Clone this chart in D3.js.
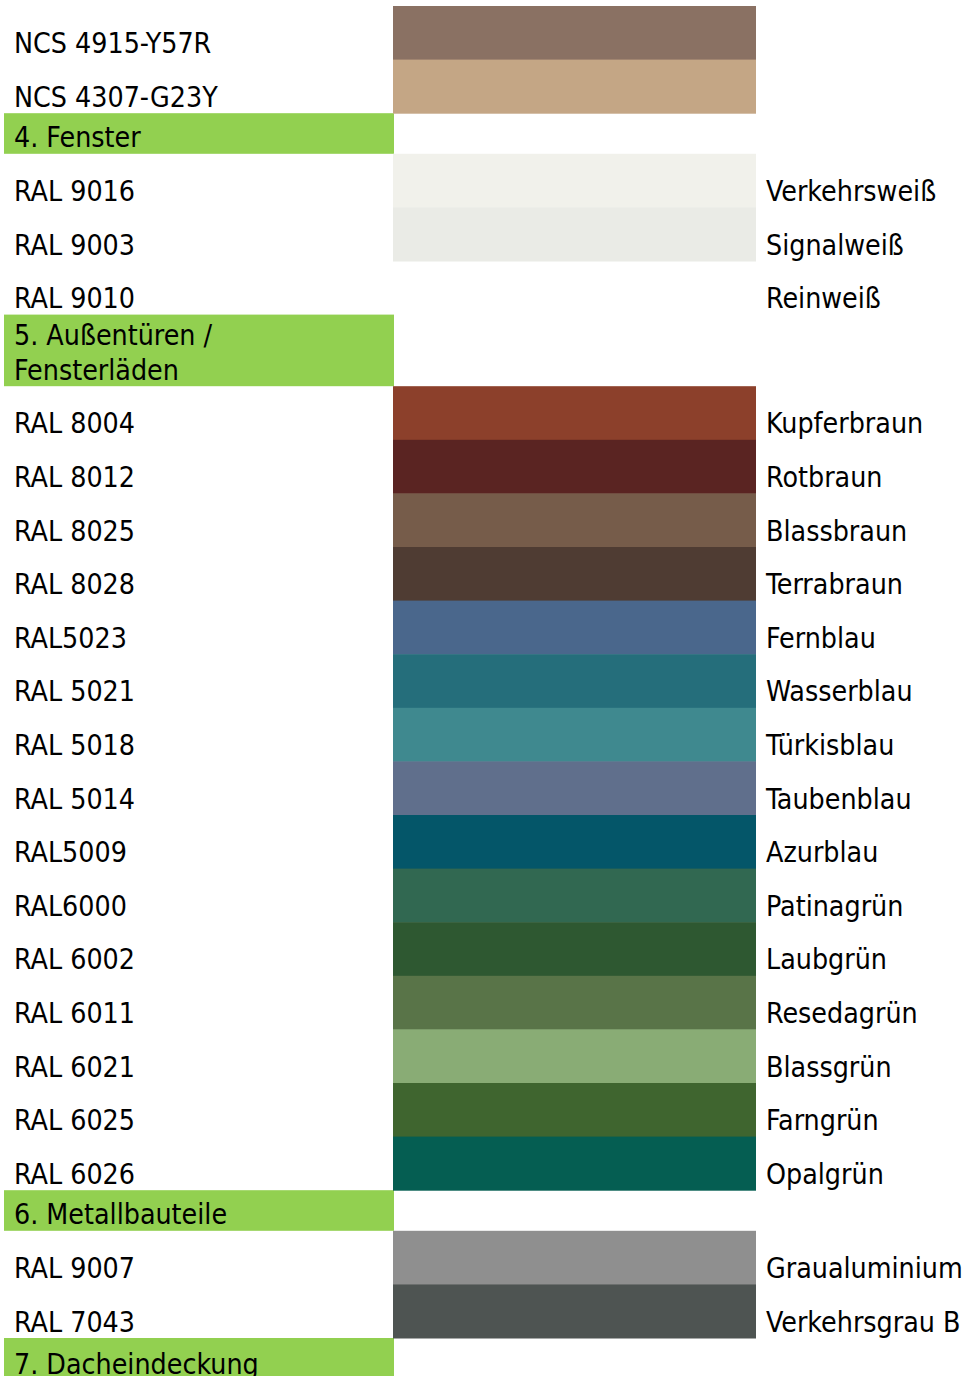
<!DOCTYPE html>
<html>
<head>
<meta charset="utf-8">
<script src="https://cdn.jsdelivr.net/npm/d3@7"></script>
<style>
  body { margin: 0; background: #fff; }
  svg { display: block; }
  text { font-family: "DejaVu Sans Condensed", "DejaVu Sans", sans-serif; font-size: 28.3px; fill: #000; }
</style>
</head>
<body>
<svg id="chart" width="970" height="1376"></svg>
<script>
'use strict';

// colour codes, swatch colours and names, top to bottom
const codes = [
  'NCS 4915-Y57R', 'NCS 4307-G23Y',
  'RAL 9016', 'RAL 9003', 'RAL 9010',
  'RAL 8004', 'RAL 8012', 'RAL 8025', 'RAL 8028', 'RAL5023', 'RAL 5021', 'RAL 5018',
  'RAL 5014', 'RAL5009', 'RAL6000', 'RAL 6002', 'RAL 6011', 'RAL 6021', 'RAL 6025', 'RAL 6026',
  'RAL 9007', 'RAL 7043'
];
const swatches = [
  '#8a7163', '#c4a685',
  '#f1f1eb', '#eaebe6', null,
  '#8c402b', '#5a2422', '#765c4a', '#4f3c33', '#4a678c', '#256e7b', '#3f898f',
  '#606f8c', '#045669', '#316851', '#2e5831', '#597448', '#89ac75', '#3f652f', '#055e52',
  '#8f8f8f', '#4e5452'
];
const names = [
  '', '',
  'Verkehrsweiß', 'Signalweiß', 'Reinweiß',
  'Kupferbraun', 'Rotbraun', 'Blassbraun', 'Terrabraun', 'Fernblau', 'Wasserblau', 'Türkisblau',
  'Taubenblau', 'Azurblau', 'Patinagrün', 'Laubgrün', 'Resedagrün', 'Blassgrün', 'Farngrün', 'Opalgrün',
  'Graualuminium', 'Verkehrsgrau B'
];

// section headings and how many colour rows come before each
const headers = [['4. Fenster'], ['5. Außentüren /', 'Fensterläden'], ['6. Metallbauteile'], ['7. Dacheindeckung']];
const headerAfter = [2, 5, 20, 22];

const rowH = 53.6;
const lineH = 35;
const startY = 6;

// build the vertical layout
const items = [];
let y = startY;
codes.forEach((c, i) => {
  headers.forEach((h, j) => {
    if (headerAfter[j] === i) {
      const hh = h.length === 1 ? 40.6 : 71.6;
      items.push({type: 'header', lines: h, y, h: hh});
      y += hh;
    }
  });
  items.push({type: 'row', code: c, color: swatches[i], name: names[i], y, h: rowH});
  y += rowH;
});
headers.forEach((h, j) => {
  if (headerAfter[j] === codes.length) {
    items.push({type: 'header', lines: h, y, h: 42});
  }
});

const svg = d3.select('#chart');
const x = d3.scaleOrdinal()
  .domain(['band', 'code', 'swatch', 'name'])
  .range([4, 14, 393, 766]);
const swatchW = 756 - 393;
const bandW = 394 - 4;

const heads = svg.selectAll('g.header')
  .data(items.filter(d => d.type === 'header'))
  .join('g')
  .attr('class', 'header');
heads.append('rect')
  .attr('x', x('band'))
  .attr('y', d => d.y)
  .attr('width', bandW)
  .attr('height', d => d.h)
  .attr('fill', '#92d050');
heads.each(function (d) {
  const g = d3.select(this);
  const n = d.lines.length;
  d.lines.forEach((l, k) => {
    g.append('text')
      .attr('x', x('code'))
      .attr('y', d.y + d.h - 6.5 - (n - 1 - k) * lineH)
      .text(l);
  });
});

const rows = svg.selectAll('g.row')
  .data(items.filter(d => d.type === 'row'))
  .join('g')
  .attr('class', 'row');
rows.filter(d => d.color)
  .append('rect')
  .attr('x', x('swatch'))
  .attr('y', d => d.y)
  .attr('width', swatchW)
  .attr('height', d => d.h + 0.5)
  .attr('fill', d => d.color);
rows.append('text')
  .attr('x', x('code'))
  .attr('y', d => d.y + d.h - 6.5)
  .text(d => d.code);
rows.append('text')
  .attr('x', x('name'))
  .attr('y', d => d.y + d.h - 6.5)
  .text(d => d.name);
</script>
</body>
</html>
